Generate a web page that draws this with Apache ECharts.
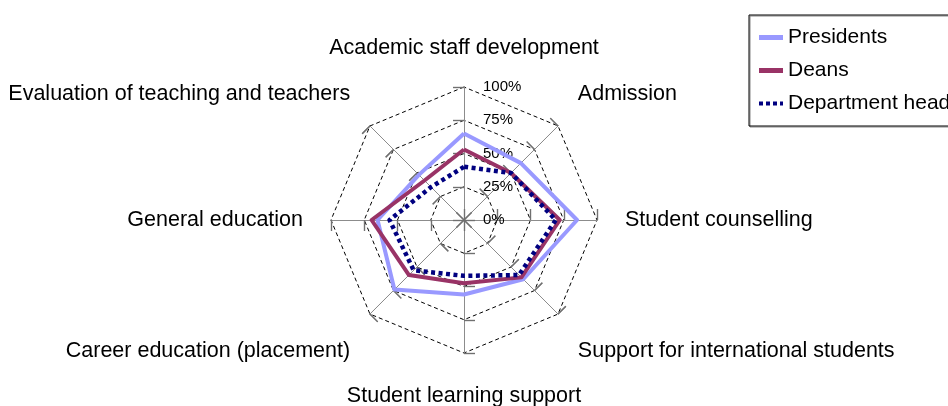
<!DOCTYPE html>
<html>
<head>
<meta charset="utf-8">
<script src="https://cdn.jsdelivr.net/npm/echarts@6/dist/echarts.min.js"></script>
<style>
  html, body { margin: 0; padding: 0; background: #fff; }
  #chart { width: 948px; height: 406px; }
</style>
</head>
<body>
<div id="chart"></div>
<script>
// axes, counter-clockwise starting from the top
var categories = [
  'Academic staff development',
  'Evaluation of teaching and teachers',
  'General education',
  'Career education (placement)',
  'Student learning support',
  'Support for international students',
  'Student counselling',
  'Admission'
]
var presidents = [65, 48, 65, 74, 56, 63, 85, 60.5]
var deans = [53, 42, 69.5, 58.5, 47.5, 61, 72, 50]
var deptHeads = [40, 35, 56, 53.5, 42, 58.5, 69, 50]
var seriesNames = ['Presidents', 'Deans', 'Department heads']
var tickValues = [0, 25, 50, 75, 100]

var chart = echarts.init(document.getElementById('chart'))
var font = 'Liberation Sans, Arial, sans-serif'
var cx = 464, cy = 220, R = 133
var tickStyle = { color: '#707070', width: 1.2 }

// extra vertical room for the diagonal names (rich style keys)
var nameStyle = ['top', 'up', 'mid', 'down', 'bottom', 'down', 'mid', 'up']

function indicators(withLabel) {
  return categories.map(function (c, i) {
    return {
      name: c,
      min: tickValues[0],
      max: tickValues[tickValues.length - 1],
      axisLabel: { show: withLabel && i === 0 }
    }
  })
}

var nameRich = function (pad) {
  return { fontSize: 21.5, fontFamily: font, color: '#000', padding: pad }
}

var option = {
  backgroundColor: '#fff',
  animation: false,
  legend: {
    orient: 'vertical',
    left: 749,
    top: 15,
    padding: [12, 80, 12, 10],
    itemWidth: 24,
    itemHeight: 5,
    itemGap: 12,
    borderColor: '#000',
    borderWidth: 1,
    borderRadius: 0,
    shadowColor: '#888',
    shadowOffsetX: 1,
    shadowOffsetY: 1,
    textStyle: { color: '#000', fontSize: 21, fontFamily: font },
    itemStyle: { borderWidth: 0 },
    data: [
      { name: seriesNames[0], icon: 'rect', itemStyle: { color: '#9999ff' } },
      { name: seriesNames[1], icon: 'rect', itemStyle: { color: '#993366' } },
      {
        name: seriesNames[2],
        icon: 'path://M0,0h4v4h-4z M7,0h4v4h-4z M14,0h4v4h-4z M21,0h3v4h-3z',
        itemStyle: { color: '#000080' }
      }
    ]
  },
  radar: [
    {
      center: [cx, cy],
      radius: R,
      startAngle: 90,
      shape: 'polygon',
      splitNumber: 4,
      nameGap: 28,
      indicator: indicators(true),
      axisName: {
        color: '#000',
        fontSize: 21.5,
        fontFamily: font,
        formatter: function (name) {
          return '{' + nameStyle[categories.indexOf(name)] + '|' + name + '}'
        },
        rich: {
          top: nameRich([0, 0, 0, 0]),
          up: nameRich([0, 0, 24, 0]),
          mid: nameRich([0, 0, 0, 0]),
          down: nameRich([34, 0, 0, 0]),
          bottom: nameRich([4, 0, 0, 0])
        }
      },
      axisLine: { lineStyle: { color: '#8c8c8c', width: 1 } },
      axisTick: { show: true, length: 11, lineStyle: tickStyle },
      axisLabel: {
        show: false,
        color: '#000',
        fontSize: 15,
        fontFamily: font,
        margin: -19,
        align: 'left',
        formatter: function (v) { return v + '%' }
      },
      splitLine: { lineStyle: { color: '#000', width: 1, type: [4, 3] } },
      splitArea: { show: false }
    },
    {
      // second copy only to draw the other half of each tick
      center: [cx, cy],
      radius: R,
      startAngle: 90,
      shape: 'polygon',
      splitNumber: 4,
      indicator: indicators(false),
      axisName: { show: false },
      axisLine: { show: true, lineStyle: { color: '#8c8c8c', width: 1 } },
      axisTick: { show: true, inside: true, length: 11, lineStyle: tickStyle },
      axisLabel: { show: false },
      splitLine: { show: false },
      splitArea: { show: false }
    }
  ],
  series: [
    {
      type: 'radar',
      radarIndex: 0,
      symbol: 'none',
      data: [
        { name: seriesNames[0], value: presidents, lineStyle: { color: '#9999ff', width: 4 } },
        { name: seriesNames[1], value: deans, lineStyle: { color: '#993366', width: 4 } },
        { name: seriesNames[2], value: deptHeads, lineStyle: { color: '#000080', width: 4.5, type: [4, 3.5], cap: 'butt' } }
      ]
    }
  ]
}
chart.setOption(option)
</script>
</body>
</html>
